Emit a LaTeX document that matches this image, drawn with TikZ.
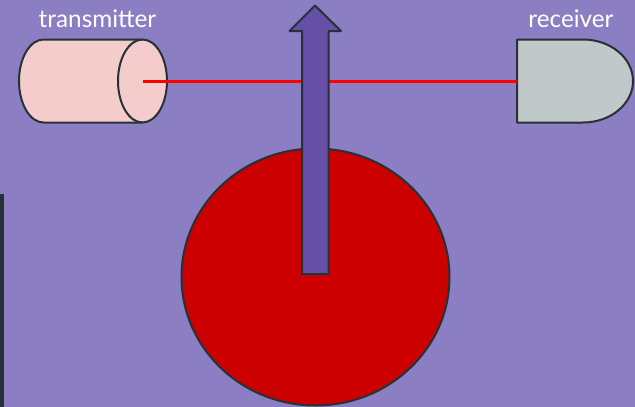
\documentclass[tikz,border=0pt]{standalone}
\usepackage{fontspec}
\setmainfont{Lato}
\definecolor{bg}{HTML}{8B7EC3}
\definecolor{edge}{HTML}{263238}
\definecolor{cyl}{HTML}{F4CCCC}
\definecolor{recv}{HTML}{C0C8C9}
\definecolor{arr}{HTML}{674EA7}
\definecolor{disk}{HTML}{CC0000}
\definecolor{beam}{HTML}{FF0000}
\begin{document}
\begin{tikzpicture}[x=1pt,y=-1pt,
  outline/.style={draw=edge,line width=2pt,line join=round},
  lbl/.style={text=white,font=\fontsize{24.3}{28}\selectfont,inner sep=0pt,anchor=base}]
\fill[bg] (0,0) rectangle (635,407);
\useasboundingbox (0,0) rectangle (635,407);
\fill[edge] (0,194) rectangle (3.5,407);
% transmitter cylinder
\draw[outline,fill=cyl] (43.5,39.5) -- (142.5,39.5) arc[start angle=-90,end angle=90,x radius=24.5,y radius=41.5]
  -- (43.5,122.5) arc[start angle=90,end angle=270,x radius=24.5,y radius=41.5] -- cycle;
\draw[outline] (142.5,39.5) arc[start angle=-90,end angle=-270,x radius=24.5,y radius=41.5];
\coordinate (beamstart) at (142.5,81);
% receiver
\draw[outline,fill=recv] (517,39.5) -- (583,39.5) arc[start angle=-90,end angle=90,x radius=50,y radius=41.5] -- (517,122.5) -- cycle;
\coordinate (beamend) at (517,81);
\draw[beam,line width=3pt] (beamstart) -- (beamend);
% disk
\draw[outline,fill=disk] (315.5,277) ellipse[x radius=134,y radius=128.5];
% arrow
\draw[outline,fill=arr] (302,274) -- (302,31) -- (289.5,31) -- (315,5.5) -- (341,31) -- (328.5,31) -- (328.5,274) -- cycle;
% labels
\node[lbl] (tx) at (97.5,27) {transmitter};
\node[lbl] (rx) at (571,27) {receiver};
\end{tikzpicture}
\end{document}
